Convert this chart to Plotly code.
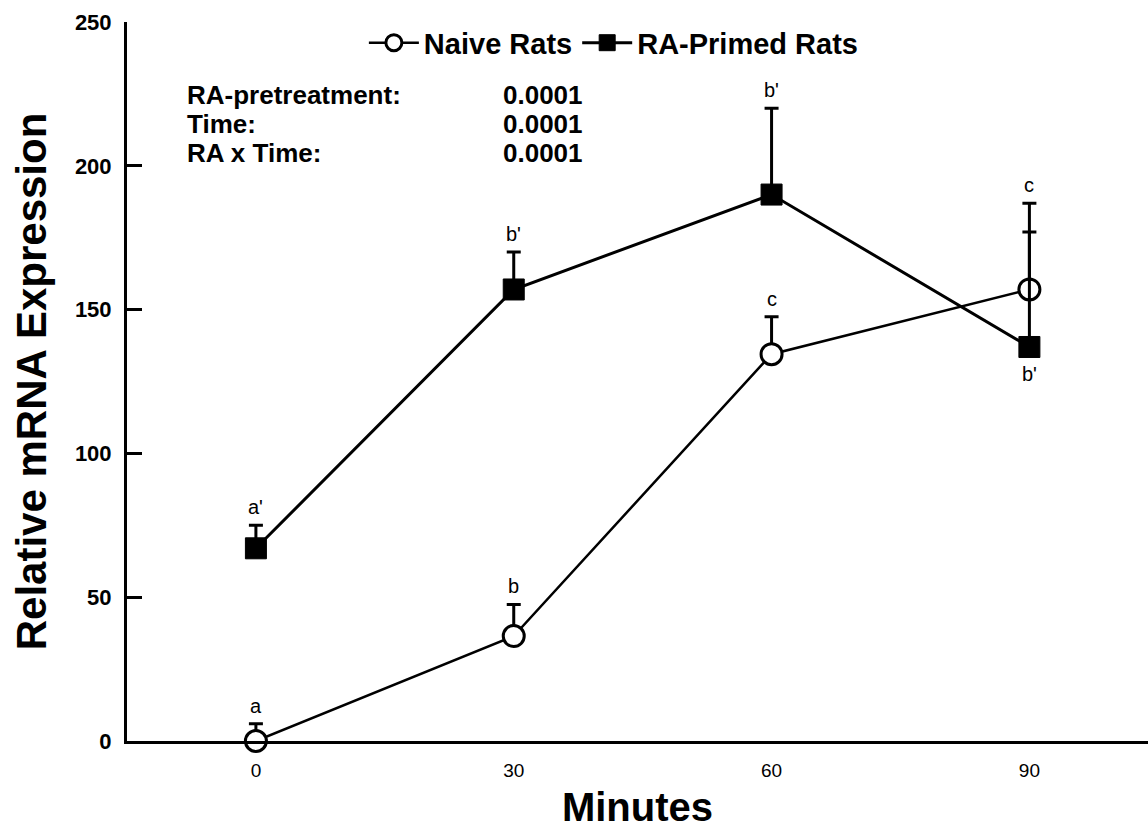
import plotly.graph_objects as go

minutes = [0, 30, 60, 90]
naive_mean = [0, 36.5, 134.5, 157]
naive_err = [6, 11, 13, 30]
naive_letters = ["a", "b", "c", "c"]
primed_mean = [67, 157, 190, 137]
primed_err = [8, 13, 30, 40]
primed_letters = ["a'", "b'", "b'", "b'"]
stat_terms = ["RA-pretreatment:", "Time:", "RA x Time:"]
stat_p = ["0.0001", "0.0001", "0.0001"]
y_ticks = [0, 50, 100, 150, 200, 250]

FAM = "Liberation Sans"
fig = go.Figure()

fig.add_trace(go.Scatter(
    x=minutes, y=naive_mean, mode="lines+markers", name="Naive Rats",
    line=dict(color="black", width=2.5),
    marker=dict(symbol="circle", size=21, color="white",
                line=dict(color="black", width=3)),
    error_y=dict(type="data", symmetric=False, array=naive_err,
                 arrayminus=[0] * 4, color="black", thickness=3, width=7),
    cliponaxis=False,
))
fig.add_trace(go.Scatter(
    x=minutes, y=primed_mean, mode="lines+markers", name="RA-Primed Rats",
    line=dict(color="black", width=3),
    marker=dict(symbol="square", size=21, color="black",
                line=dict(color="black", width=1)),
    error_y=dict(type="data", symmetric=False, array=primed_err,
                 arrayminus=[0] * 4, color="black", thickness=3, width=7),
    cliponaxis=False,
))

letter_font = dict(size=20, color="black", family=FAM)
ann = []
for x, m, e, t in zip(minutes, naive_mean, naive_err, naive_letters):
    ann.append(dict(x=x, y=m + e, text=t, showarrow=False, yanchor="bottom",
                    yshift=5, font=letter_font))
for i, (x, m, e, t) in enumerate(zip(minutes, primed_mean, primed_err, primed_letters)):
    if i == 3:
        # the last letter sits under its marker
        ann.append(dict(x=x, y=m, text=t, showarrow=False, yanchor="top",
                        yshift=-14, font=letter_font))
    else:
        ann.append(dict(x=x, y=m + e, text=t, showarrow=False, yanchor="bottom",
                        yshift=5, font=letter_font))

stat_font = dict(size=26, color="black", family=FAM, weight="bold")
for k, (term, p) in enumerate(zip(stat_terms, stat_p)):
    yy = 224.5 - k * 10
    ann.append(dict(x=-8.3, y=yy, xref="x", yref="y", text=term,
                    showarrow=False, xanchor="left", yanchor="middle", font=stat_font))
    ann.append(dict(x=28.5, y=yy, xref="x", yref="y", text=p,
                    showarrow=False, xanchor="left", yanchor="middle", font=stat_font))

fig.update_layout(
    width=1148, height=831,
    margin=dict(l=127, r=0, t=22, b=90),
    paper_bgcolor="white", plot_bgcolor="white",
    showlegend=True,
    legend=dict(orientation="h", x=0.232, y=0.971, xanchor="left", yanchor="middle",
                font=dict(size=29, color="black", family=FAM, weight="bold"),
                bgcolor="rgba(0,0,0,0)", itemwidth=50, tracegroupgap=0),
    annotations=ann,
    xaxis=dict(range=[-15, 103.8], tickvals=minutes, ticks="", showgrid=False,
               zeroline=False, showline=True, linecolor="black", linewidth=3,
               ticklabelstandoff=10,
               tickfont=dict(size=19, color="black", family=FAM),
               title=dict(text="Minutes", standoff=14,
                          font=dict(size=40, color="black", family=FAM, weight="bold"))),
    yaxis=dict(range=[0, 250], tickvals=y_ticks, ticks="inside", ticklen=15,
               tickwidth=3, tickcolor="black", showgrid=False, zeroline=False,
               showline=True, linecolor="black", linewidth=3,
               ticklabelstandoff=8,
               tickfont=dict(size=22, color="black", family=FAM, weight="bold"),
               title=dict(text="Relative mRNA Expression", standoff=16,
                          font=dict(size=42, color="black", family=FAM, weight="bold"))),
)

fig.write_html("out.html")
